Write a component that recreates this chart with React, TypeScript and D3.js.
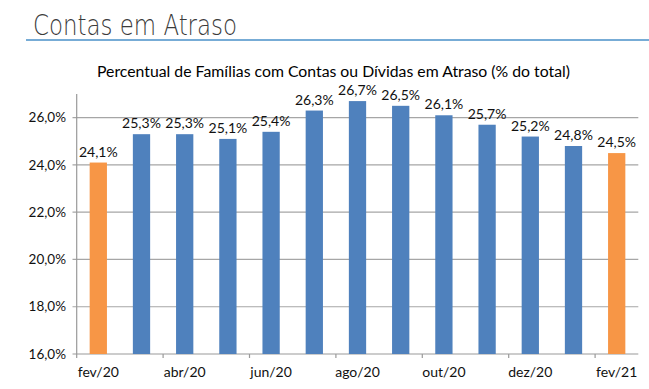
import React from 'react';
import * as d3 from 'd3';

const months = [
  'fev/20', 'mar/20', 'abr/20', 'mai/20', 'jun/20', 'jul/20', 'ago/20',
  'set/20', 'out/20', 'nov/20', 'dez/20', 'jan/21', 'fev/21'
];
const values = [24.1, 25.3, 25.3, 25.1, 25.4, 26.3, 26.7, 26.5, 26.1, 25.7, 25.2, 24.8, 24.5];
const highlighted = ['fev/20', 'fev/21'];
const yTicks = [16, 18, 20, 22, 24, 26];

const W = 649;
const H = 389;
const font = 'Lato, "Open Sans", sans-serif';

const fmt = (v: number, digits: number) => v.toFixed(digits).replace('.', ',') + '%';

export default function App() {
  // plot area
  const left = 76.7, right = 638.3, top = 94, bottom = 354;

  const x = d3.scaleBand<string>().domain(months).range([left, right]).paddingInner(0.6).paddingOuter(0.3);
  const y = d3.scaleLinear().domain([16, 27]).range([bottom, top]);
  const step = x.step();

  return (
    <svg width={W} height={H} style={{ position: 'absolute', left: 0, top: 0, background: '#fff' }}>
      {/* page title */}
      <text x={33} y={35} fontFamily='"DejaVu Sans", sans-serif' fontWeight={200} fontSize={28}
        fill="#3b3b3b" textLength={204} lengthAdjust="spacingAndGlyphs">Contas em Atraso</text>
      <line x1={26} x2={649} y1={40} y2={40} stroke="#4a90c8" strokeWidth={1.5} />

      {/* chart title */}
      <text x={97} y={77} fontFamily={font} fontSize={14.5} fill="#000"
        textLength={473} lengthAdjust="spacingAndGlyphs">
        Percentual de Famílias com Contas ou Dívidas em Atraso  (% do total)
      </text>

      {/* gridlines + y ticks */}
      {yTicks.map(t => (
        <g key={t}>
          <line x1={72.5} x2={right} y1={y(t)} y2={y(t)} stroke={t === 16 ? '#9a9a9a' : '#a6a6a6'} strokeWidth={1.2} />
          <text x={66} y={y(t)} dy="0.35em" textAnchor="end" fontFamily={font} fontSize={13.5} fill="#111">
            {fmt(t, 1)}
          </text>
        </g>
      ))}
      <line x1={76.7} x2={76.7} y1={top} y2={bottom + 4} stroke="#9a9a9a" strokeWidth={1.2} />

      {/* x ticks every 2 categories, on band boundaries */}
      {months.map((m, i) => i % 2 === 0 && i > 0 ? (
        <line key={m} x1={left + i * step} x2={left + i * step} y1={bottom} y2={bottom + 4}
          stroke="#9a9a9a" strokeWidth={1.2} />
      ) : null)}

      {/* bars */}
      {months.map((m, i) => (
        <rect key={m} x={x(m)} y={y(values[i])} width={x.bandwidth()} height={bottom - y(values[i])}
          fill={highlighted.includes(m) ? '#f79646' : '#4f81bd'} />
      ))}

      {/* value labels */}
      {months.map((m, i) => (
        <text key={m} x={(x(m) ?? 0) + x.bandwidth() / 2} y={y(values[i]) - 6} textAnchor="middle"
          fontFamily={font} fontSize={14} fill="#111">
          {fmt(values[i], 1)}
        </text>
      ))}

      {/* x labels */}
      {months.map((m, i) => i % 2 === 0 ? (
        <text key={m} x={(x(m) ?? 0) + x.bandwidth() / 2} y={377} textAnchor="middle"
          fontFamily={font} fontSize={14} fill="#111">
          {m}
        </text>
      ) : null)}
    </svg>
  );
}
